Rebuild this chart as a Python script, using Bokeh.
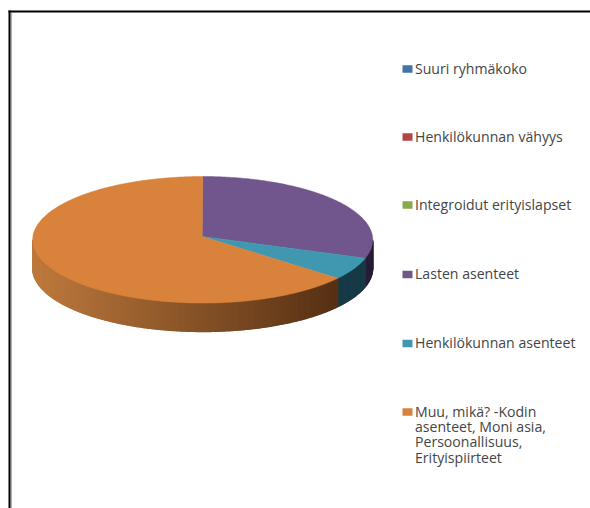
import numpy as np
from bokeh.plotting import figure
from bokeh.models import Range1d
from bokeh.core.properties import value
from bokeh.embed import file_html
from bokeh.resources import INLINE

# Data
categories = ["Suuri ryhmäkoko", "Henkilökunnan vähyys", "Integroidut erityislapset",
              "Lasten asenteet", "Henkilökunnan asenteet",
              "Muu, mikä? -Kodin\nasenteet, Moni asia,\nPersoonallisuus,\nErityispiirteet"]
shares = [0, 0, 0, 29.7, 5.7, 64.6]
colors = ["#4374a8", "#b04744", "#8aa84c", "#70568c", "#3f98b0", "#d8823c"]
side_left = [None, None, None, (48, 34, 66), (27, 66, 78), (190, 122, 62)]
side_right = [None, None, None, (40, 28, 56), (22, 58, 70), (86, 48, 20)]

# Layout in reference pixels
CX, CY, RX, RY = 202.2, 239.3, 170.0, 63.3
AX, AY = 201.7, 236.0
DEPTH = 28.5
FONT = "Open Sans"
FS = "14.1px"
TEXT_C = "#454545"
LEG_X = 402
LEG_Y = [68.5, 136.5, 204.5, 274, 343, 411.5]
LINE_H = 15.3

p = figure(width=590, height=508, output_backend="svg", toolbar_location=None,
           x_range=Range1d(0, 590), y_range=Range1d(508, 0),
           min_border=0, outline_line_color=None)
p.axis.visible = False
p.grid.visible = False
p.background_fill_color = "white"
p.border_fill_color = "white"

# Frame
p.segment(x0=[10.8], y0=[12], x1=[10.8], y1=[508], line_color="#b0b0b0", line_width=1.5)
p.segment(x0=[9, 8], y0=[10, 11], x1=[9, 590], y1=[508, 11], line_color="black", line_width=2)

# Slices
total = sum(shares)
start = -90.0
spans = []
for s in shares:
    spans.append((start, start + 360.0 * s / total))
    start = spans[-1][1]

def rim(deg):
    t = np.radians(deg)
    return CX + RX * np.cos(t), CY + RY * np.sin(t)

# Side walls (only the front half shows)
xs, ys, cs = [], [], []
for (a, b), cl, cr in zip(spans, side_left, side_right):
    lo, hi = max(a, 0.0), min(b, 180.0)
    if cl is None or hi <= lo:
        continue
    edges = np.linspace(lo, hi, max(2, int(hi - lo) * 2))
    for t0, t1 in zip(edges[:-1], edges[1:]):
        x0, y0 = rim(t0)
        x1, y1 = rim(t1)
        f = np.clip((CX + RX * 0.8 - (x0 + x1) / 2) / (RX * 1.8), 0, 1)
        c = [int(cr[i] + (cl[i] - cr[i]) * f) for i in range(3)]
        xs.append([x0, x1, x1, x0])
        ys.append([y0, y1, y1 + DEPTH, y0 + DEPTH])
        cs.append("#%02x%02x%02x" % tuple(c))
p.patches(xs, ys, fill_color=cs, line_color=cs, line_width=1.2)

# Top faces
for (a, b), col in zip(spans, colors):
    if b <= a:
        continue
    ts = np.linspace(a, b, max(3, int(b - a) * 2))
    rx, ry = rim(ts)
    p.patch(np.r_[AX, rx], np.r_[AY, ry], fill_color=col, line_color=col, line_width=0.5)

# Legend
for name, col, y in zip(categories, colors, LEG_Y):
    p.rect(x=[LEG_X + 5], y=[y], width=10, height=7.5, fill_color=col, line_color=None)
    for i, line in enumerate(name.split("\n")):
        p.text(x=[LEG_X + 12.5], y=[y + i * LINE_H - 0.7], text=[line], text_font=value(FONT),
               text_font_size=FS, text_color=TEXT_C, text_baseline="middle", text_align="left")

open("out.html", "w").write(file_html(p, INLINE))
